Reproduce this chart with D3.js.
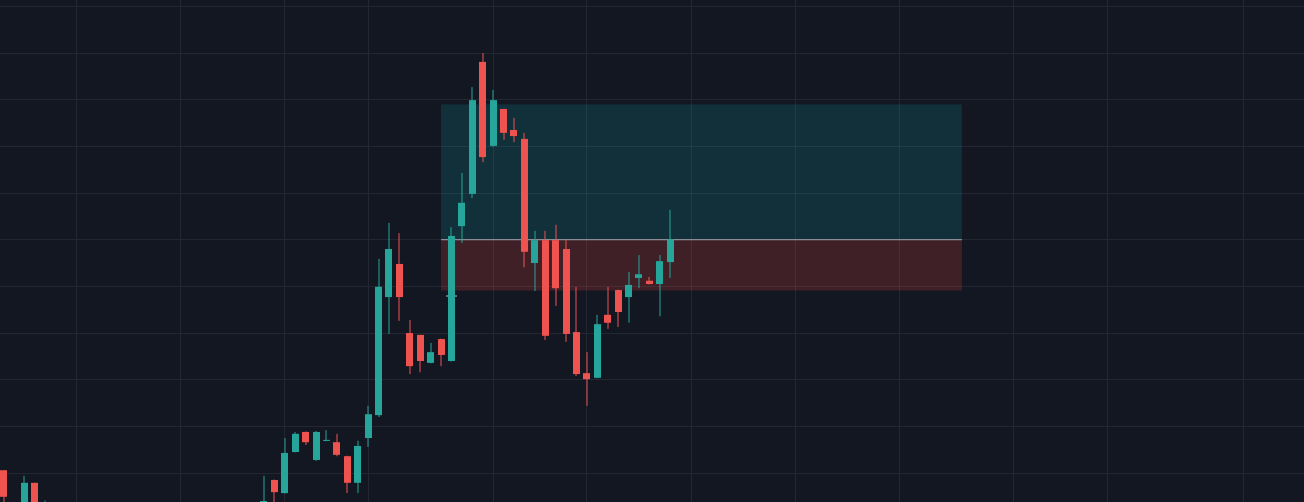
<!DOCTYPE html>
<html>
<head>
<meta charset="utf-8">
<script src="https://cdn.jsdelivr.net/npm/d3@7"></script>
<style>
html,body{margin:0;padding:0;background:#131722;overflow:hidden;}
svg{display:block;}
</style>
</head>
<body>
<svg id="chart" width="1304" height="502"></svg>
<script>
// Bar index (position on the time axis) of each visible candle
const barIndex = [0,2,3,4,25,26,27,28,29,30,31,32,33,34,35,36,37,38,39,40,41,42,43,44,45,46,47,48,49,50,51,52,53,54,55,56,57,58,59,60,61,62,63,64];
const opens  = [1006,920,979,920,920,985,957,1045,1088,1028,1069,1066,1036,979,1075,1124,1377,1448,1300,1296,1236,1287,1240,1529,1598,1881,1701,1780,1735,1716,1450,1499,1499,1480,1302,1214,1204,1339,1392,1377,1418,1412,1405,1452];
const highs  = [1006,994,979,941,994,986,1075,1088,1089,1090,1092,1084,1037,1069,1144,1459,1536,1514,1328,1296,1279,1288,1527,1643,1827,1900,1821,1781,1761,1729,1519,1519,1532,1499,1399,1259,1339,1399,1393,1431,1467,1420,1467,1564];
const lows   = [931,910,910,910,910,934,956,1044,1060,1026,1068,1036,957,957,1056,1120,1298,1326,1212,1216,1235,1229,1239,1493,1589,1666,1699,1714,1709,1441,1390,1285,1358,1281,1208,1144,1203,1309,1313,1322,1396,1404,1336,1418];
const closes = [949,979,916,935,940,959,1043,1084,1066,1088,1071,1039,979,1058,1126,1399,1480,1377,1229,1240,1259,1253,1508,1579,1799,1677,1799,1729,1722,1474,1499,1294,1396,1298,1212,1201,1319,1322,1345,1403,1426,1405,1454,1501];

// Long position tool
const positionStart = 42, positionEnd = 92;
const entryPrice = 1500, targetPrice = 1790, stopPrice = 1391;

// Grid
const gridPrices = [2000,1900,1800,1700,1600,1500,1400,1300,1200,1100,1000];
const gridBars = [7,17,27,35,47,56,66,76,86,97,106,119];

const W = 1304, H = 502;
const svg = d3.select("#chart");
const x = d3.scaleLinear().domain([0, 119]).range([3.5, 3.5 + 10.417 * 119]);
const y = d3.scaleLinear().domain([937.9, 2013.6]).range([502, 0]);

svg.append("rect").attr("width", W).attr("height", H).attr("fill", "#131722");

const grid = svg.append("g").attr("stroke", "#232733").attr("stroke-width", 1).attr("shape-rendering", "crispEdges");
grid.selectAll(".h").data(gridPrices).enter().append("line")
  .attr("x1", 0).attr("x2", W)
  .attr("y1", d => Math.floor(y(d)) + 0.5).attr("y2", d => Math.floor(y(d)) + 0.5);
grid.selectAll(".v").data(gridBars).enter().append("line")
  .attr("y1", 0).attr("y2", H)
  .attr("x1", d => Math.floor(x(d)) + 0.5).attr("x2", d => Math.floor(x(d)) + 0.5);

// Position boxes
const bx0 = x(positionStart), bx1 = x(positionEnd);
svg.append("rect").attr("x", bx0).attr("width", bx1 - bx0)
  .attr("y", y(targetPrice)).attr("height", y(entryPrice) - y(targetPrice))
  .attr("fill", "rgba(9,150,150,0.2)");
svg.append("rect").attr("x", bx0).attr("width", bx1 - bx0)
  .attr("y", y(entryPrice)).attr("height", y(stopPrice) - y(entryPrice))
  .attr("fill", "rgba(237,68,61,0.21)");
svg.append("line").attr("x1", bx0).attr("x2", bx1)
  .attr("y1", y(entryPrice)).attr("y2", y(entryPrice))
  .attr("stroke", "#8a8d96").attr("stroke-width", 1.2);
svg.append("line").attr("x1", bx0 + 5).attr("x2", bx0 + 16)
  .attr("y1", y(stopPrice) + 5.5).attr("y2", y(stopPrice) + 5.5)
  .attr("stroke", "#6d6f78").attr("stroke-width", 2);

// Candles
const candles = barIndex.map((b, i) => ({b, o: opens[i], h: highs[i], l: lows[i], c: closes[i]}));
const up = "#26a69a", down = "#ef5350";
const g = svg.append("g");
const cg = g.selectAll("g").data(candles).enter().append("g");
cg.append("rect")
  .attr("x", d => Math.round(x(d.b)) - 0.5).attr("width", 1)
  .attr("y", d => y(d.h)).attr("height", d => Math.max(1, y(d.l) - y(d.h)))
  .attr("fill", d => d.c >= d.o ? up : down);
cg.append("rect")
  .attr("x", d => Math.round(x(d.b) - 3.5)).attr("width", 7)
  .attr("y", d => y(Math.max(d.o, d.c)))
  .attr("height", d => Math.max(1, Math.abs(y(d.o) - y(d.c))))
  .attr("fill", d => d.c >= d.o ? up : down);
</script>
</body>
</html>
